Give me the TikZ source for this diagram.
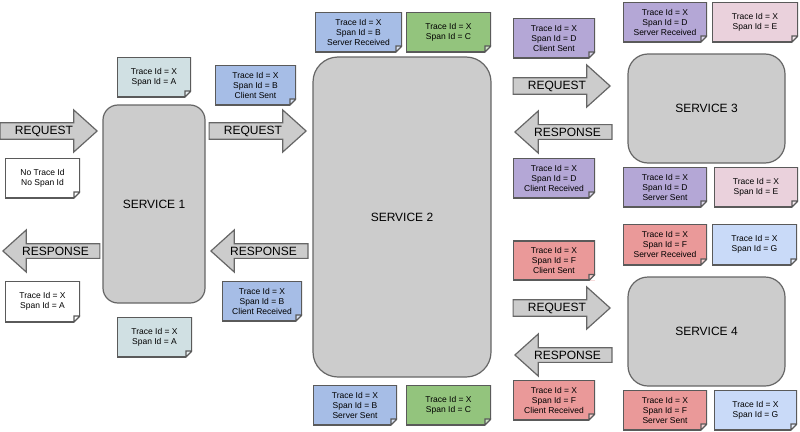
\documentclass[tikz,border=0pt]{standalone}
\usepackage{fontspec}
\setmainfont{Liberation Sans}
\usetikzlibrary{shapes.arrows}

\definecolor{noteA}{HTML}{D0E0E3}
\definecolor{noteB}{HTML}{A6BDE6}
\definecolor{noteC}{HTML}{93C47D}
\definecolor{noteD}{HTML}{B4A7D6}
\definecolor{noteE}{HTML}{EAD1DC}
\definecolor{noteF}{HTML}{EA9999}
\definecolor{noteG}{HTML}{C9DAF8}
\definecolor{boxfill}{HTML}{CCCCCC}
\definecolor{edge}{HTML}{666666}
\definecolor{notebd}{HTML}{5A5A5A}

\begin{document}
\begin{tikzpicture}[x=1pt,y=-1pt,
    service/.style={draw=edge, fill=boxfill, line width=1.2pt, rounded corners=#1,
      font=\fontsize{12}{14}\selectfont},
    note/.style={fill=#1, minimum width=82pt, minimum height=40pt, inner sep=0pt,
      align=center, font=\fontsize{8.5}{10}\selectfont,
      path picture={
        \coordinate (nw) at (path picture bounding box.north west);
        \coordinate (ne) at (path picture bounding box.north east);
        \coordinate (sw) at (path picture bounding box.south west);
        \coordinate (se) at (path picture bounding box.south east);
        \fill[white] ([xshift=-6pt]se) -- (se) -- ([yshift=6pt]se) -- cycle;
        \fill[#1!45!white] ([xshift=-6pt]se) -- ([shift={(-6pt,6pt)}]se) -- ([yshift=6pt]se) -- cycle;
        \draw[notebd, line width=2.6pt] ([xshift=-6pt]se) -- (sw) -- (nw) -- (ne) -- ([yshift=6pt]se);
        \draw[notebd, line width=1.1pt] ([yshift=6pt]se) -- ([xshift=-6pt]se)
          -- ([shift={(-6pt,6pt)}]se) -- cycle;
      }},
    note/.default=white,
    flow/.style={single arrow, draw=edge, fill=boxfill, line width=1.2pt,
      minimum height=97pt, minimum width=42pt, single arrow head extend=9pt,
      single arrow tip angle=84, inner sep=0pt, font=\fontsize{12}{14}\selectfont},
    back/.style={flow, shape border rotate=180}
  ]
  \useasboundingbox (0,0) rectangle (800,431);

  % services
  \node[service=15pt, minimum width=102pt, minimum height=198pt] (svc1) at (154,204) {SERVICE 1};
  \node[service=25pt, minimum width=178pt, minimum height=320pt] (svc2) at (402,217) {SERVICE 2};
  \node[service=20pt, minimum width=157pt, minimum height=109pt] (svc3) at (706.5,108.5) {SERVICE 3};
  \node[service=20pt, minimum width=157pt, minimum height=109pt] (svc4) at (706.5,331.5) {SERVICE 4};

  % requests and responses
  \node[flow, anchor=tip] (req1) at (98,131) {REQUEST};
  \node[flow, anchor=tip] (req2) at (307,131) {REQUEST};
  \node[back, anchor=tip] (resp1) at (2,251) {RESPONSE};
  \node[back, anchor=tip] (resp2) at (210,251) {RESPONSE};
  \node[flow, anchor=tip] (req3) at (611,86) {REQUEST};
  \node[back, anchor=tip] (resp3) at (514,132) {RESPONSE};
  \node[flow, anchor=tip] (req4) at (611,308) {REQUEST};
  \node[back, anchor=tip] (resp4) at (514,355) {RESPONSE};

  % service 1
  \node[note, minimum width=75pt] (noid) at (42.5,178) {No Trace Id\\No Span Id};
  \node[note=noteA, minimum width=74pt] (aTop) at (154,77) {Trace Id = X\\Span Id = A};
  \node[note, minimum width=75pt, minimum height=41pt] (aResp) at (42.5,301.5) {Trace Id = X\\Span Id = A};
  \node[note=noteA, minimum width=75pt] (aBot) at (154.5,337) {Trace Id = X\\Span Id = A};
  \node[note=noteB, minimum width=81pt] (bCS) at (255.5,85) {Trace Id = X\\Span Id = B\\Client Sent};
  \node[note=noteB, minimum width=80pt] (bCR) at (262,301) {Trace Id = X\\Span Id = B\\Client Received};

  % service 2
  \node[note=noteB, minimum width=87pt] (bSR) at (358.5,32) {Trace Id = X\\Span Id = B\\Server Received};
  \node[note=noteC, minimum width=85pt] (cTop) at (448.5,32) {Trace Id = X\\Span Id = C};
  \node[note=noteB, minimum width=84pt] (bSS) at (355,405) {Trace Id = X\\Span Id = B\\Server Sent};
  \node[note=noteC, minimum width=85pt] (cBot) at (448.5,405) {Trace Id = X\\Span Id = C};
  \node[note=noteD] (dCS) at (554,38) {Trace Id = X\\Span Id = D\\Client Sent};
  \node[note=noteD] (dCR) at (554,178) {Trace Id = X\\Span Id = D\\Client Received};
  \node[note=noteF] (fCS) at (554,260.5) {Trace Id = X\\Span Id = F\\Client Sent};
  \node[note=noteF] (fCR) at (554,400) {Trace Id = X\\Span Id = F\\Client Received};

  % service 3
  \node[note=noteD, minimum width=84pt] (dSR) at (665,22) {Trace Id = X\\Span Id = D\\Server Received};
  \node[note=noteE, minimum width=86pt] (eTop) at (755,22) {Trace Id = X\\Span Id = E};
  \node[note=noteD, minimum width=84pt] (dSS) at (665,187) {Trace Id = X\\Span Id = D\\Server Sent};
  \node[note=noteE, minimum width=84pt] (eBot) at (756,187) {Trace Id = X\\Span Id = E};

  % service 4
  \node[note=noteF, minimum width=84pt, minimum height=41pt] (fSR) at (665,244.5) {Trace Id = X\\Span Id = F\\Server Received};
  \node[note=noteG, minimum width=85pt, minimum height=41pt] (gTop) at (754.5,244.5) {Trace Id = X\\Span Id = G};
  \node[note=noteF, minimum width=84pt] (fSS) at (665,410) {Trace Id = X\\Span Id = F\\Server Sent};
  \node[note=noteG, minimum width=83pt] (gBot) at (755.5,410) {Trace Id = X\\Span Id = G};
\end{tikzpicture}
\end{document}
